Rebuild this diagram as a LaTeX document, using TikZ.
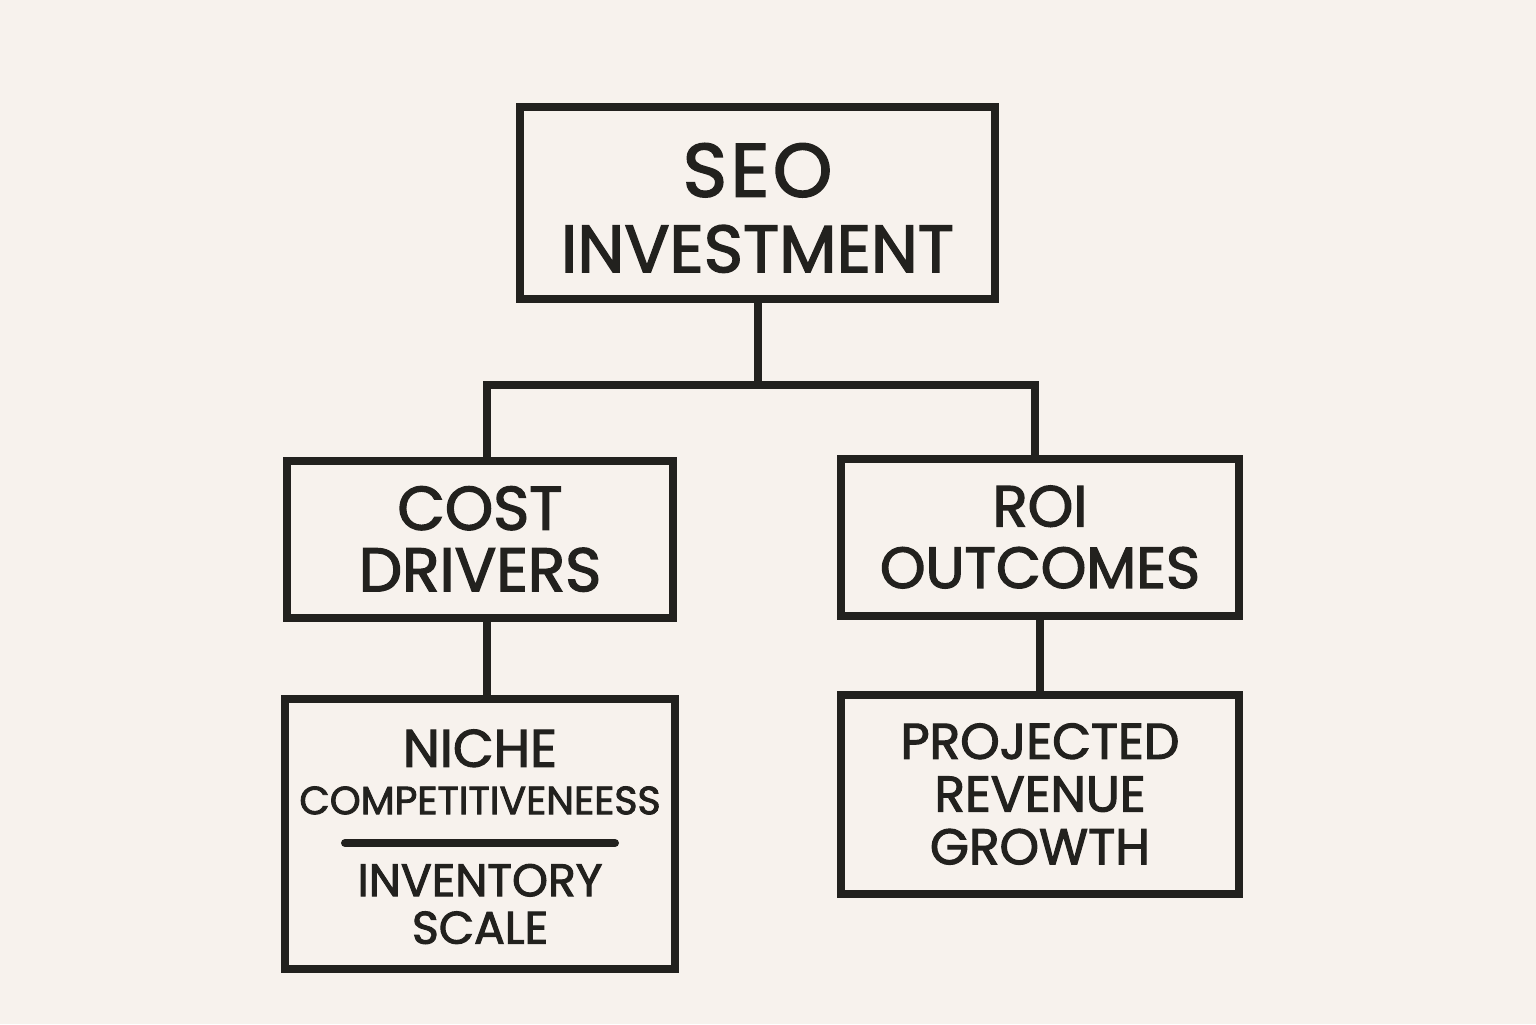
\documentclass[tikz,border=0pt]{standalone}
\usepackage{fontspec}
\setmainfont{Poppins}[FakeBold=2.2]
\usepackage{tikz}
\usepackage{xcolor}
\usetikzlibrary{positioning,calc}
\definecolor{paper}{RGB}{247,242,237}
\definecolor{ink}{RGB}{34,33,30}

\tikzset{
  box/.style={draw=ink,line width=0.08cm,align=center,text=ink,inner sep=0pt},
  link/.style={draw=ink,line width=0.08cm}
}

\begin{document}
\begin{tikzpicture}[x=1cm,y=1cm]
\fill[paper] (0,0) rectangle (15.36,10.24);
\useasboundingbox (0,0) rectangle (15.36,10.24);
% top
\node[box,minimum width=4.75cm,minimum height=1.92cm] (seo) at (7.575,8.21) {};
\node[text=ink,align=center,font=\fontsize{21.5}{21.5}\selectfont] (seoT) at (7.575,8.16) {S\kern1ptE\kern1ptO\\\fontsize{19}{21.5}\selectfont INVESTMENT};
% second row
\node[box,minimum width=3.86cm,minimum height=1.57cm,font=\fontsize{17.5}{17.5}\selectfont] (cost) at (4.80,4.85) {COST\\DRIVERS};
\node[box,minimum width=3.98cm,minimum height=1.57cm,font=\fontsize{16.5}{17.5}\selectfont] (roi) at (10.40,4.87) {ROI\\OUTCOMES};
% third row
\node[box,minimum width=3.90cm,minimum height=2.70cm] (niche) at (4.80,1.90) {};
\node[text=ink,align=center,font=\fontsize{15}{13.5}\selectfont] (nicheA) at (4.80,2.52) {NICHE\\\fontsize{11.2}{13.5}\selectfont COMPETITIVENEESS};
\node[text=ink,align=center,font=\fontsize{13}{13.5}\selectfont] (nicheB) at (4.80,1.20) {INVENTORY\\SCALE};
\draw[link,line cap=round] ($(niche.center)+(-1.35,-0.09)$) -- ($(niche.center)+(1.35,-0.09)$);
\node[box,minimum width=3.98cm,minimum height=1.99cm,font=\fontsize{14.3}{15}\selectfont] (proj) at (10.40,2.30) {PROJECTED\\REVENUE\\GROWTH};
% connectors
\coordinate (fork) at (7.575,6.39);
\draw[link] (seo.south) -- (fork);
\draw[link] ([xshift=0.07cm]cost.north) |- (fork) -| ([xshift=-0.05cm]roi.north);
\draw[link] ([xshift=0.07cm]cost.south) -- ([xshift=0.07cm]niche.north);
\draw[link] (roi.south) -- (proj.north);
\end{tikzpicture}
\end{document}
